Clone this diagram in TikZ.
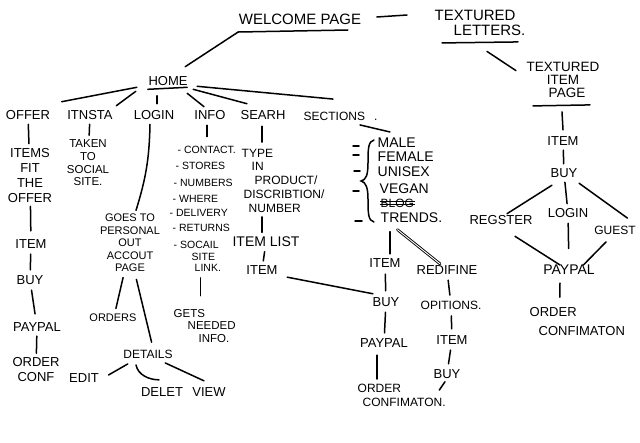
\documentclass[tikz,border=0pt]{standalone}
\usepackage{fontspec}
\setmainfont{Liberation Sans}
\usetikzlibrary{calc}
\newcommand\hfs[2]{\fontsize{#1}{#2}\selectfont}
\tikzset{
  lbl/.style={inner sep=1.5pt, font=\hfs{13}{15}, align=center},
  sm/.style={inner sep=1.5pt, font=\hfs{10.5}{11}, anchor=west, align=left},
  sec/.style={inner sep=1.5pt, font=\hfs{14}{15}, anchor=west},
  ln/.style={line width=1.5pt, line cap=round, shorten <=3pt, shorten >=3pt},
  ln0/.style={line width=1.5pt, line cap=round},
  dbl/.style={line width=0.9pt, double, double distance=0.9pt, line cap=round},
}
\begin{document}
\begin{tikzpicture}[x=1pt,y=-1pt]
\fill[white] (0,0) rectangle (640,442);
\useasboundingbox (0,0) rectangle (640,442);

% ---- top
\node[lbl, font=\hfs{15}{17}] (welcome) at (300,19) {WELCOME PAGE};
\node[lbl, font=\hfs{15}{15}, align=left, anchor=west] (texlet) at (433,23) {TEXTURED\\\hspace*{19pt}LETTERS.};
\node[lbl, font=\hfs{13.5}{13}] (texitem) at (563,80) {TEXTURED\\ITEM\\\hspace*{8pt}PAGE};
\node[lbl] (home) at (168,81) {HOME};

% ---- right column
\node[lbl] (ritem) at (563,141) {ITEM};
\node[lbl] (rbuy) at (564,173) {BUY};
\node[lbl] (regster) at (501,220) {REGSTER};
\node[lbl] (rlogin) at (568,213) {LOGIN};
\node[lbl, font=\hfs{12}{14}] (guest) at (615,230) {GUEST};
\node[lbl, font=\hfs{14}{16}] (rpaypal) at (569,270) {PAYPAL};
\node[lbl, align=left, anchor=west, font=\hfs{13}{19}] (rorder) at (528,322) {ORDER\\\hspace*{9pt}CONFIMATON};

% ---- level 1
\node[lbl] (offer) at (28,115) {OFFER};
\node[lbl] (itnsta) at (90,115) {ITNSTA};
\node[lbl] (login) at (154,115) {LOGIN};
\node[lbl] (info) at (210,115) {INFO};
\node[lbl] (searh) at (263,115) {SEARH};
\node[lbl, font=\hfs{12}{14}, anchor=west] (sections) at (302,116) {SECTIONS\hspace{9pt}.};

% ---- offer column
\node[lbl] (items) at (30,175.5) {ITEMS\\FIT\\THE\\OFFER};
\node[lbl] (oitem) at (31,244) {ITEM};
\node[lbl] (obuy) at (30,280) {BUY};
\node[lbl] (opaypal) at (37,327) {PAYPAL};
\node[lbl] (oorder) at (36,370) {ORDER\\CONF};

% ---- itnsta
\node[lbl, font=\hfs{11.5}{12.7}] (taken) at (88,163) {TAKEN\\TO\\SOCIAL\\SITE.};

% ---- login column
\node[lbl, font=\hfs{11}{12.5}] (goes) at (130,243) {GOES TO\\PERSONAL\\OUT\\ACCOUT\\PAGE};
\node[lbl, font=\hfs{11}{13}] (orders) at (113,318) {ORDERS};
\node[lbl, font=\hfs{12}{14}] (details) at (148,354) {DETAILS};
\node[lbl] (edit) at (84,378) {EDIT};
\node[lbl] (delet) at (162,392) {DELET};
\node[lbl] (view) at (209,392) {VIEW};

% ---- info column
\node[sm] (c1) at (176,150) {- CONTACT.};
\node[sm] (c2) at (174,166) {- STORES};
\node[sm] (c3) at (172,183) {- NUMBERS};
\node[sm] (c4) at (171,199) {- WHERE};
\node[sm] (c5) at (168,213) {- DELIVERY};
\node[sm] (c6) at (171,228) {- RETURNS};
\node[sm] (c7) at (172,245) {- SOCAIL};
\node[sm] (c8) at (190,262) {SITE\\\hspace*{3pt}LINK.};
\node[lbl, font=\hfs{11.5}{12.5}, align=left, anchor=west] (gets) at (172,326) {GETS\\\hspace*{14pt}NEEDED\\\hspace*{25pt}INFO.};

% ---- search column
\node[lbl, font=\hfs{12}{13.75}, align=left, anchor=west] (type) at (240,180.5) {TYPE\\\hspace*{10pt}IN\\\hspace*{13pt}PRODUCT/\\\hspace*{2pt}DISCRIBTION/\\\hspace*{7pt}NUMBER};
\node[lbl, font=\hfs{14}{16}] (itemlist) at (266,242) {ITEM LIST};
\node[lbl] (sitem) at (262,270) {ITEM};

% ---- sections column
\node[sec] (male) at (376,143) {MALE};
\node[sec] (female) at (376,157) {FEMALE};
\node[sec] (unisex) at (376,172) {UNISEX};
\node[sec] (vegan) at (378,189) {VEGAN};
\node[sec, font=\hfs{12}{14}] (blog) at (379,203) {BLOG};
\node[sec] (trends) at (379,218) {TRENDS.};
\node[lbl] (mitem) at (385,263) {ITEM};
\node[lbl] (redifine) at (447,270) {REDIFINE};
\node[lbl] (mbuy) at (386,302) {BUY};
\node[lbl, font=\hfs{12}{14}] (opitions) at (451,305) {OPITIONS.};
\node[lbl] (mpaypal) at (384,343) {PAYPAL};
\node[lbl] (mitem2) at (452,340) {ITEM};
\node[lbl] (mbuy2) at (447,374) {BUY};
\node[lbl, font=\hfs{12}{14}, align=left, anchor=west] (morder) at (356,395) {ORDER\\\hspace*{5pt}CONFIMATON.};

% ================= connectors
% top
\draw[ln0] ($(welcome.south west)+(1,6)$) -- ($(welcome.south east)+(-15,4)$);
\draw[ln0] ($(welcome.south west)+(1,6)$) -- ($(home.north east)+(-4,-8)$);
\draw[ln0] ($(welcome.east)+(14,-2)$) -- ($(texlet.west)+(-26,-8)$);
\draw[ln0] ($(texlet.south west)+(9,5.5)$) -- ($(texlet.south west)+(85,4.5)$);
\draw[ln0] ($(texlet.south west)+(54,14)$) -- ($(texitem.north west)+(-9,10)$);
\draw[ln0] ($(texitem.south)+(-30,6.5)$) -- ($(texitem.south)+(27,5.5)$);
\draw[ln0] ($(texitem.south)+(-1,12.5)$) -- ($(ritem.north)+(0,-5)$);

% right column
\draw[ln] (ritem) -- (rbuy);
\draw[ln0] ($(rbuy.south west)+(3,6)$) -- ($(regster.north)+(6,0)$);
\draw[ln] (rbuy) -- (rlogin);
\draw[ln0] ($(rbuy.south east)+(0,4)$) -- ($(guest.north east)+(-10,-6)$);
\draw[ln0] ($(regster.south)+(14,10)$) -- ($(rpaypal.north)+(-9,1.5)$);
\draw[ln, shorten <=4pt, shorten >=15pt] (rlogin) -- (rpaypal);
\draw[ln0] ($(guest.south)+(-9,6)$) -- ($(rpaypal.north east)+(-13,1.5)$);
\draw[ln0] ($(rpaypal.south)+(-9,6.5)$) -- ($(rorder.north)+(-17.5,-9)$);

% home underline and branches
\draw[ln0] ($(home.south west)+(1,2)$) -- ($(home.south east)+(-2,0)$);
\draw[ln0] ($(home.south west)+(-10,0)$) -- ($(offer.north east)+(10,-7)$);
\draw[ln0] ($(home.south west)+(-11,4)$) -- ($(itnsta.north east)+(2,-3)$);
\draw[ln0] ($(login.north)+(3,-13)$) -- ($(login.north)+(3,-5)$);
\draw[ln0] ($(home.south east)+(-2,6)$) -- ($(info.north)+(-6,-2)$);
\draw[ln0] ($(home.south east)+(4,2)$) -- ($(searh.north west)+(8,-5)$);
\draw[ln0] ($(home.south east)+(8,-1)$) -- ($(sections.north west)+(31,-11)$);

% offer column
\draw[ln] (offer) -- (items);
\draw[ln, shorten <=2pt, shorten >=7pt] (items) -- (oitem);
\draw[ln, shorten <=4pt, shorten >=4pt] (oitem) -- (obuy);
\draw[ln, shorten <=4pt, shorten >=7pt] (obuy) -- (opaypal);
\draw[ln] (opaypal) -- (oorder);

% itnsta
\draw[ln] (itnsta) -- (taken);

% login column
\draw[ln0] ($(login.south)+(-4,3)$) to[bend left=8] ($(goes.north)+(6,-2)$);
\draw[ln, shorten <=4pt, shorten >=4pt] ($(goes.south)+(-6,0)$) -- ($(orders.north)+(2,0)$);
\draw[ln, shorten <=6pt, shorten >=6pt] ($(goes.south)+(5,0)$) -- ($(details.north)+(5,0)$);
\draw[ln0] ($(details.south west)+(6,4)$) -- ($(edit.east)+(8,-3)$);
\draw[ln0] ($(details.south)+(-12,5)$) .. controls +(2,10) and +(-10,0) .. ($(delet.north)+(-3,-6)$);
\draw[ln0] ($(details.south east)+(-9,3)$) -- ($(view.north)+(-5,-5)$);

% info column
\draw[ln, shorten <=4pt, shorten >=8pt] ($(info.south)+(-3,0)$) -- ($(info.south |- c1.north)+(-3,0)$);
\draw[ln, shorten <=5pt, shorten >=12pt] ($(gets.north |- c8.south)+(-4,0)$) -- ($(gets.north)+(-4,0)$);

% search column
\draw[ln, shorten <=5pt, shorten >=5pt] ($(searh.south)+(-1,0)$) -- ($(searh.south |- type.north)+(-1,0)$);
\draw[ln, shorten <=3pt, shorten >=3pt] ($(itemlist.north |- type.south)+(-4,0)$) -- ($(itemlist.north)+(-4,0)$);
\draw[ln] (itemlist) -- (sitem);
\draw[ln0] ($(sitem.south east)+(8,1)$) -- ($(mbuy.north west)+(2,-2)$);

% sections column
\draw[ln0] ($(sections.south west)+(58,3)$) -- ($(male.north west)+(14,-4.5)$);
\draw[ln0] (374,140) .. controls (368,141) and (368,150) .. (368,163)
  .. controls (368,175) and (366,180) .. (361,181)
  .. controls (366,182) and (368,188) .. (368,199)
  .. controls (368,212) and (368,221) .. (374,222);
\draw[ln0] (353,146) -- (359,146);
\draw[ln0] (353,155) -- (359,155);
\draw[ln0] (354,171) -- (360,171);
\draw[ln0] (353,191) -- (359,191);
\draw[ln0] (355,221) -- (362,221);
\draw[line width=1.4pt] ($(blog.west)+(1,-1.5)$) -- ($(blog.east)+(-1,-1.5)$);
\draw[line width=1.4pt] ($(blog.west)+(1,1.5)$) -- ($(blog.east)+(-1,1.5)$);
\draw[ln, shorten <=7pt, shorten >=3pt] ($(trends.south west)+(11,0)$) -- ($(mitem.north)+(5,0)$);
\draw[dbl] ($(trends.south)+(-14,5)$) -- ($(redifine.north)+(-7,0)$);
\draw[ln, shorten <=5pt, shorten >=5pt] (mitem) -- (mbuy);
\draw[ln, shorten <=4pt, shorten >=4pt] (redifine) -- (opitions);
\draw[ln, shorten <=4pt, shorten >=4pt] (mbuy) -- (mpaypal);
\draw[ln, shorten <=5pt, shorten >=5pt] (opitions) -- (mitem2);
\draw[ln, shorten <=4pt, shorten >=4pt] (mitem2) -- (mbuy2);
\draw[ln, shorten <=6pt, shorten >=3pt] ($(mpaypal.south)+(-7,0)$) -- ($(mpaypal.south |- morder.north)+(-7,0)$);
\draw[ln0] ($(mbuy2.south)+(-2,1.5)$) -- ($(morder.north east)+(-8,8)$);
\end{tikzpicture}
\end{document}
